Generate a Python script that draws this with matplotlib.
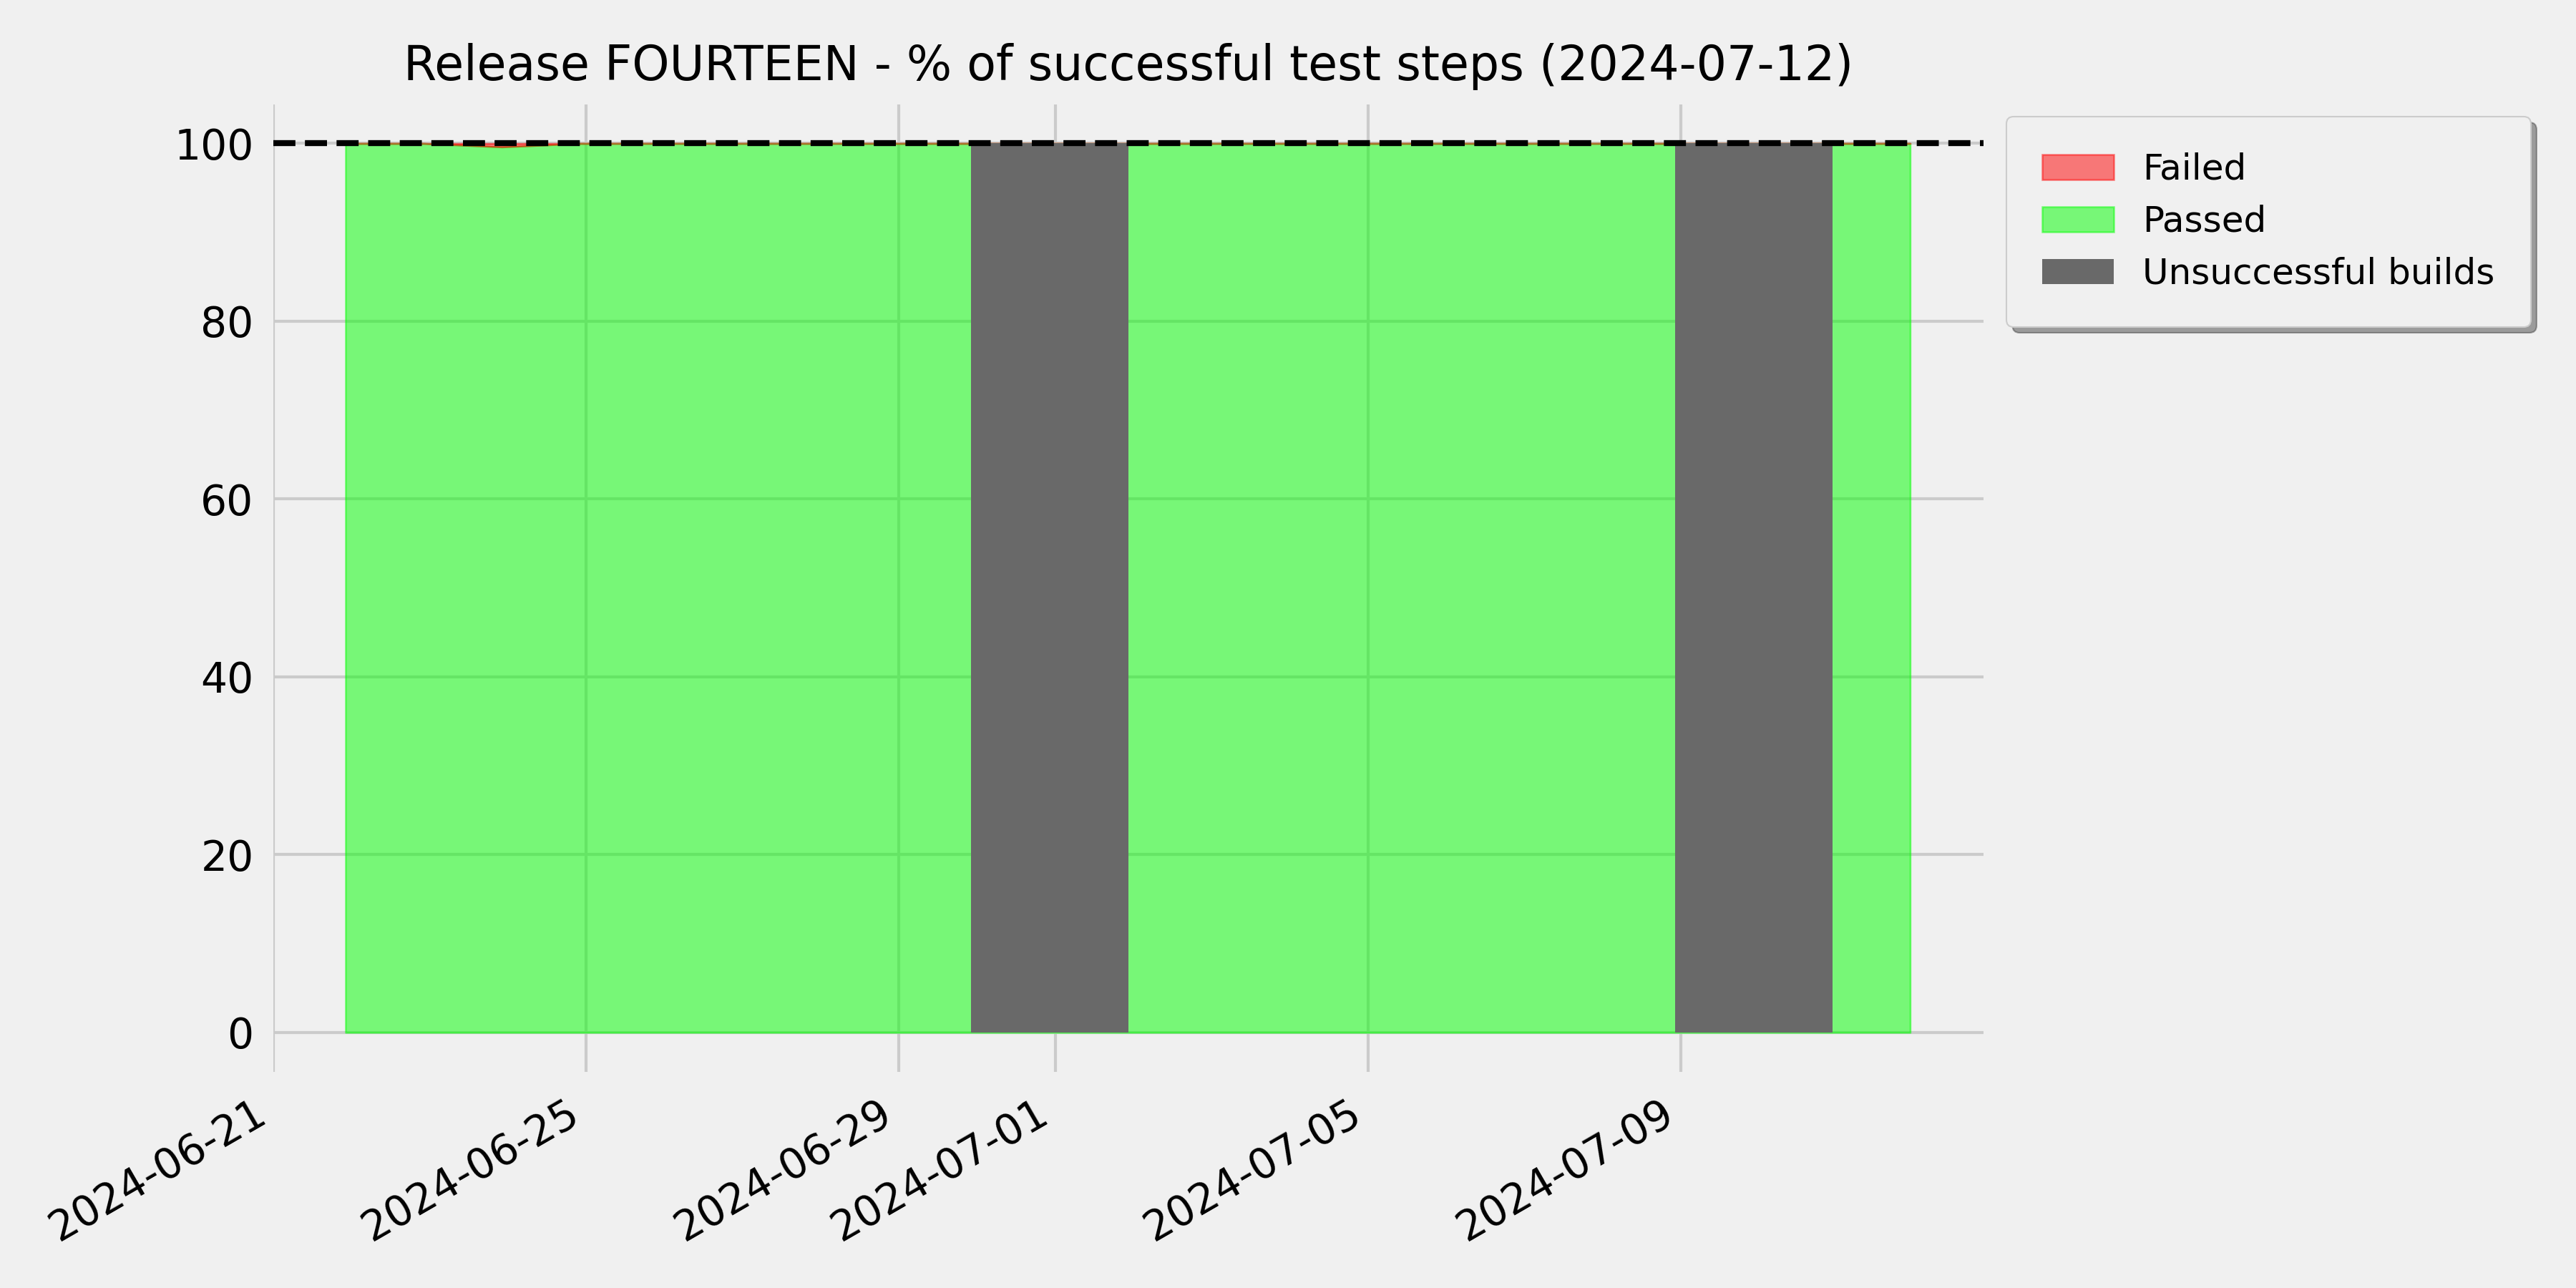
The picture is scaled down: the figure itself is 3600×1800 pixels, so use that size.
import matplotlib

matplotlib.use("agg")
import matplotlib.pyplot as plt
import pandas as pd

# nightly build timestamps and step results (%)
dates = [
    "2024-06-21 22:10", "2024-06-22 22:10", "2024-06-23 22:10", "2024-06-24 22:10",
    "2024-06-25 22:10", "2024-06-26 22:10", "2024-06-27 22:10", "2024-06-28 22:10",
    "2024-06-29 22:05", "2024-06-30 22:10", "2024-07-01 22:20", "2024-07-02 22:10",
    "2024-07-03 22:10", "2024-07-04 22:10", "2024-07-05 22:10", "2024-07-06 22:10",
    "2024-07-07 22:10", "2024-07-08 22:05", "2024-07-09 22:10", "2024-07-10 22:30",
    "2024-07-11 22:20",
]
failed = [0, 0, 0.4, 0, 0, 0, 0, 0, 0, 0, 0, 0, 0, 0, 0, 0, 0, 0, 0, 0, 0]
passed = [100, 100, 99.6, 100, 100, 100, 100, 100, 100, 100, 100,
          100, 100, 100, 100, 100, 100, 100, 100, 100, 100]

# periods where the build itself did not succeed
unsuccessful = [
    ("2024-06-29 22:05", "2024-07-01 22:20"),
    ("2024-07-08 22:05", "2024-07-10 22:30"),
]

release = "FOURTEEN"
report_date = "2024-07-12"

plt.style.use("fivethirtyeight")
plt.rcParams["font.family"] = ["DejaVu Sans"]

x = pd.to_datetime(dates)
# passed at the bottom, failed stacked on top
top_passed = list(passed)
top_failed = [p + f for p, f in zip(passed, failed)]

fig, ax = plt.subplots(figsize=(12, 6), dpi=300)
fig.subplots_adjust(left=0.106, right=0.770, bottom=0.168, top=0.919)

h_passed = ax.fill_between(x, 0, top_passed, color="lime", alpha=0.5, linewidth=0.6, label="Passed")
h_failed = ax.fill_between(x, top_passed, top_failed, color="red", alpha=0.5, linewidth=0.6, label="Failed")

handles_unsucc = []
for start, end in unsuccessful:
    h = ax.fill_between(pd.to_datetime([start, end]), 0, 100, color="dimgray", linewidth=0)
    handles_unsucc.append(h)
handles_unsucc[0].set_label("Unsuccessful builds")

ax.axhline(100, color="black", linestyle="--", linewidth=2)

ax.set_xlim(pd.Timestamp("2024-06-20 23:55"), pd.Timestamp("2024-07-12 20:50"))
ax.set_ylim(-4.4, 104.4)
ax.set_yticks([0, 20, 40, 60, 80, 100])

for s in ax.spines.values():
    s.set_visible(False)

ax.tick_params(axis="y", labelsize=14, pad=6.5)
ax.tick_params(axis="x", labelsize=14, pad=7)
for lab in ax.get_xticklabels():
    lab.set_rotation(30)
    lab.set_ha("right")

ax.set_title(f"Release {release} - % of successful test steps ({report_date})",
             fontsize=16, pad=8)

ax.legend(
    handles=[h_failed, h_passed, handles_unsucc[0]],
    loc="upper left", bbox_to_anchor=(1.003, 1.006),
    fontsize=12, borderpad=1.0, shadow=True, fancybox=True,
)

fig.savefig("out.png", dpi=300, facecolor=fig.get_facecolor())
